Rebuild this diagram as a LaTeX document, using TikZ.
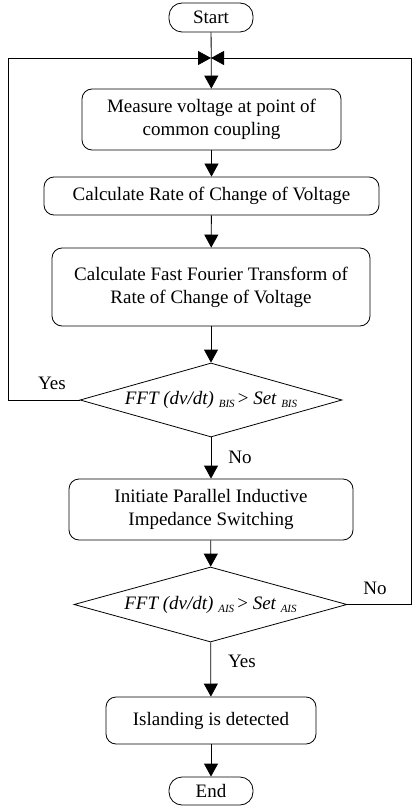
\documentclass[tikz,border=0pt]{standalone}
\usepackage{fontspec}
\setmainfont{Liberation Serif}
\usetikzlibrary{shapes.geometric,arrows.meta}
\tikzset{
  box/.style={draw, rounded corners=10pt, line width=0.8pt, align=center, inner sep=0pt},
  term/.style={draw, rounded corners=13pt, line width=0.8pt, inner sep=0pt},
  dec/.style={draw, diamond, line width=0.8pt, inner sep=0pt},
  lbl/.style={inner sep=0pt},
  arr/.style={line width=0.8pt, -{Triangle[length=13pt,width=14pt]}},
  ln/.style={line width=0.8pt}
}
\newcommand{\sbx}[1]{\raisebox{-3pt}{\fontsize{11}{11}\selectfont #1}}
\begin{document}
\begin{tikzpicture}[x=1pt,y=-1pt,font=\fontsize{19}{23}\selectfont]
\useasboundingbox (0,0) rectangle (412,810);
\node[term, minimum width=84pt, minimum height=29pt] (start) at (211,17.5) {Start};
\coordinate (j) at (211,58);
\node[box, minimum width=259pt, minimum height=61pt] (meas) at (211.5,119.5) {Measure voltage at point of\\common coupling};
\node[box, minimum width=335pt, minimum height=38pt] (rate) at (211.5,196) {Calculate Rate of Change of Voltage};
\node[box, minimum width=318pt, minimum height=78pt] (fft) at (211,287) {Calculate Fast Fourier Transform of\\Rate of Change of Voltage};
\node[dec, minimum width=262pt, minimum height=74pt] (d1) at (211,400) {\makebox[0pt]{\itshape FFT (dv/dt) \sbx{BIS}\,\upshape{>} \itshape Set \sbx{BIS}}};
\node[box, minimum width=284pt, minimum height=61pt] (init) at (211,509.5) {Initiate Parallel Inductive\\Impedance Switching};
\node[dec, minimum width=273pt, minimum height=75pt] (d2) at (210.5,604.5) {\makebox[0pt]{\itshape FFT (dv/dt) \sbx{AIS}\,\upshape{>} \itshape Set \sbx{AIS}}};
\node[box, minimum width=210pt, minimum height=47pt] (isl) at (211,720.5) {Islanding is detected};
\node[term, minimum width=84pt, minimum height=28pt] (end) at (211,791) {End};
\node[lbl] (yes1) at (52,383) {Yes};
\node[lbl] (no1) at (240,457) {No};
\node[lbl] (no2) at (375,588) {No};
\node[lbl] (yes2) at (242,661) {Yes};
\coordinate (c1) at (8,400);
\coordinate (c2) at (411.6,604.5);
\draw[arr] (start) -- (meas);
\draw[arr] (meas) -- (rate);
\draw[arr] (rate) -- (fft);
\draw[arr] (fft) -- (d1);
\draw[arr] (d1) -- (init);
\draw[arr] (init) -- (d2);
\draw[arr] (d2) -- (isl);
\draw[arr] (isl) -- (end);
\draw[arr] (d1.west) -- (c1) |- (j);
\draw[arr] (d2.east) -- (c2) |- (j);
\end{tikzpicture}
\end{document}
